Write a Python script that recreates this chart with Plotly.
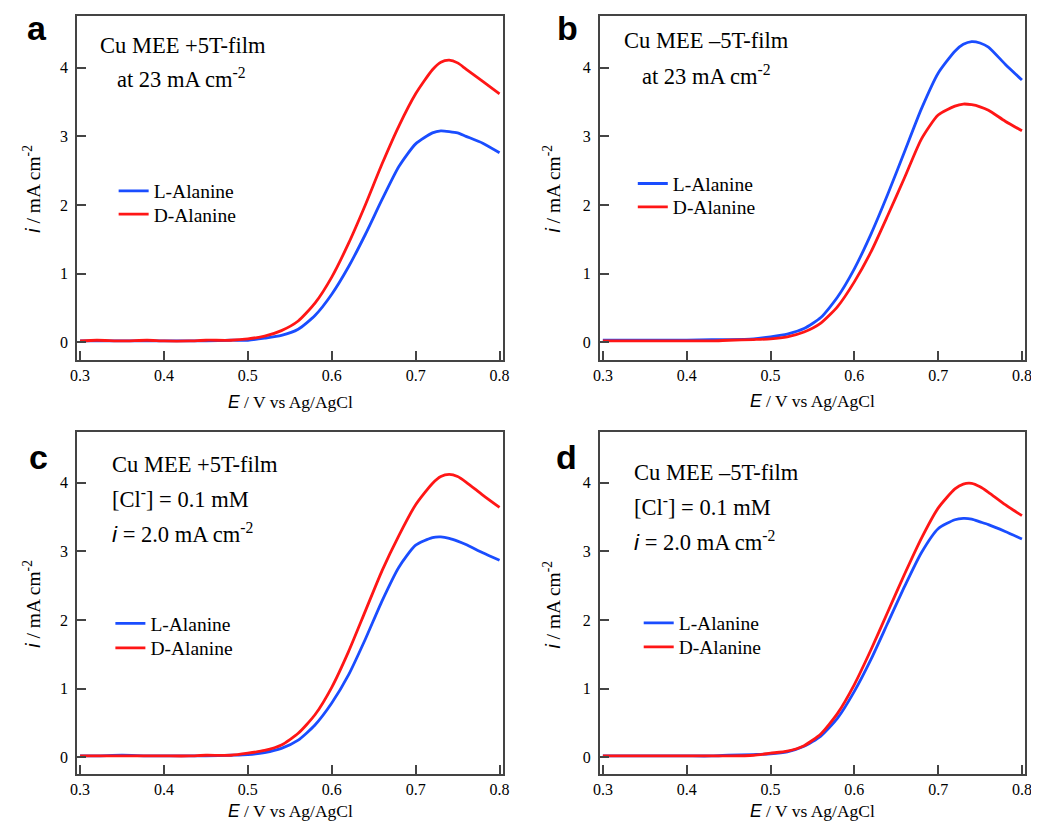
import plotly.graph_objects as go

# ---------------- data ----------------
E_V = [0.30, 0.32, 0.35, 0.38, 0.40, 0.43, 0.45, 0.48, 0.50, 0.52, 0.54, 0.56, 0.58,
       0.60, 0.62, 0.64, 0.66, 0.68, 0.70, 0.72, 0.73, 0.74, 0.75, 0.76, 0.78, 0.80]

a_L = [0.02, 0.02, 0.02, 0.02, 0.02, 0.02, 0.02, 0.03, 0.03, 0.06, 0.10, 0.19, 0.39,
       0.70, 1.10, 1.57, 2.08, 2.56, 2.89, 3.05, 3.08, 3.07, 3.05, 3.00, 2.90, 2.76]
a_D = [0.02, 0.03, 0.02, 0.03, 0.02, 0.02, 0.03, 0.03, 0.05, 0.09, 0.17, 0.31, 0.57,
       0.95, 1.44, 2.00, 2.60, 3.15, 3.62, 3.97, 4.08, 4.11, 4.07, 3.98, 3.80, 3.62]

b_L = [0.03, 0.03, 0.03, 0.03, 0.03, 0.04, 0.04, 0.05, 0.08, 0.12, 0.20, 0.36, 0.66,
       1.07, 1.58, 2.16, 2.78, 3.40, 3.92, 4.24, 4.34, 4.38, 4.36, 4.30, 4.05, 3.82]
b_D = [0.02, 0.02, 0.02, 0.02, 0.02, 0.02, 0.03, 0.04, 0.05, 0.08, 0.15, 0.28, 0.52,
       0.88, 1.32, 1.85, 2.40, 2.96, 3.31, 3.44, 3.47, 3.46, 3.43, 3.38, 3.22, 3.08]

c_L = [0.02, 0.02, 0.03, 0.02, 0.02, 0.02, 0.02, 0.03, 0.04, 0.07, 0.13, 0.25, 0.47,
       0.79, 1.20, 1.72, 2.28, 2.77, 3.09, 3.20, 3.21, 3.19, 3.15, 3.10, 2.98, 2.87]
c_D = [0.02, 0.02, 0.02, 0.02, 0.02, 0.02, 0.03, 0.03, 0.06, 0.10, 0.18, 0.35, 0.62,
       1.02, 1.54, 2.13, 2.72, 3.23, 3.68, 3.99, 4.09, 4.12, 4.09, 4.01, 3.82, 3.64]

d_L = [0.02, 0.02, 0.02, 0.02, 0.02, 0.02, 0.03, 0.04, 0.05, 0.08, 0.16, 0.31, 0.57,
       0.96, 1.43, 1.96, 2.49, 2.98, 3.33, 3.46, 3.48, 3.47, 3.43, 3.39, 3.29, 3.18]
d_D = [0.02, 0.02, 0.02, 0.02, 0.02, 0.02, 0.02, 0.03, 0.06, 0.09, 0.17, 0.34, 0.64,
       1.06, 1.57, 2.12, 2.67, 3.19, 3.63, 3.91, 3.98, 3.99, 3.94, 3.86, 3.68, 3.52]

x_ticks = [0.3, 0.4, 0.5, 0.6, 0.7, 0.8]
x_tick_labels = ["0.3", "0.4", "0.5", "0.6", "0.7", "0.8"]
y_ticks = [0, 1, 2, 3, 4]
y_tick_labels = ["0", "1", "2", "3", "4"]

series_names = ["L-Alanine", "D-Alanine"]
panel_letters = ["a", "b", "c", "d"]

TS = 22.5      # panel text size
XTS = 17.5     # x title size
YTS = 19.5     # y title size


def sans_it(ch, size):
    return f"<i><span style='font-family:Liberation Sans;font-size:{size}px'>{ch}</span></i>"


def sup(txt, size):
    return f"<sup><span style='font-size:{size * 0.7:.1f}px'>{txt}</span></sup>"


panel_texts = [
    ["Cu MEE +5T-film", "at 23 mA cm" + sup("-2", TS)],
    ["Cu MEE \u20135T-film", "at 23 mA cm" + sup("-2", TS)],
    ["Cu MEE +5T-film", "[Cl" + sup("-", TS) + "] = 0.1 mM",
     sans_it("i", TS) + " = 2.0 mA cm" + sup("-2", TS)],
    ["Cu MEE \u20135T-film", "[Cl" + sup("-", TS) + "] = 0.1 mM",
     sans_it("i", TS) + " = 2.0 mA cm" + sup("-2", TS)],
]
x_title = sans_it("E", XTS) + " / V vs Ag/AgCl"
y_title = sans_it("i", YTS) + " / mA cm" + sup("-2", YTS)

panel_data = [(a_L, a_D), (b_L, b_D), (c_L, c_D), (d_L, d_D)]

# ---------------- style / layout ----------------
# the page body has an 8 px margin: figure is drawn 8 px in from the window corner
OFF = 8
WIN_W, WIN_H = 1039, 825
W, H = WIN_W - OFF, WIN_H - OFF
BLUE = "#1a4dff"
RED = "#ff1616"
AX = "#444444"
SERIF = "Liberation Serif"
SANS = "Liberation Sans"


def fx(p):
    """window pixel x -> paper fraction"""
    return (p - OFF) / W


def fy(p):
    """window pixel y -> paper fraction"""
    return 1 - (p - OFF) / H


# pixel boxes in window coords (left, right, top, bottom)
boxes = [(71, 502.7, 15.7, 360.0), (601, 1032.3, 15.7, 360.0),
         (71, 502.7, 431.7, 774.0), (601, 1032.3, 431.7, 774.0)]
y_ranges = [[-0.258, 4.757], [-0.258, 4.757], [-0.243, 4.743], [-0.243, 4.743]]
x_range = [0.2965, 0.8041]

# legend rows: (text start x, row centre y) for L and D in each panel
legend_rows = [
    [(156, 190.7), (156, 214.0)],
    [(682.3, 183.3), (682.3, 206.7)],
    [(152.7, 623.3), (152.7, 647.7)],
    [(688.3, 622.7), (688.3, 646.7)],
]

fig = go.Figure()

n = 0
for k, (L, D) in enumerate(panel_data):
    xa = "x" if k == 0 else f"x{k+1}"
    ya = "y" if k == 0 else f"y{k+1}"
    for j, (name, vals, col) in enumerate(((series_names[0], L, BLUE),
                                           (series_names[1], D, RED))):
        n += 1
        lg = "legend" if n == 1 else f"legend{n}"
        fig.add_trace(go.Scatter(
            x=E_V, y=vals, mode="lines", name=name,
            line=dict(color=col, width=2.8, shape="spline", smoothing=0.6),
            xaxis=xa, yaxis=ya, legend=lg, showlegend=True,
        ))

layout = dict(
    width=W, height=H, margin=dict(l=0, r=0, t=0, b=0),
    paper_bgcolor="white", plot_bgcolor="white",
    font=dict(family=SERIF, color="black", size=16),
)

for k, (l, r, t, b) in enumerate(boxes):
    sx = "" if k == 0 else str(k + 1)
    common = dict(ticks="inside", ticklen=9, tickwidth=1.5, tickcolor=AX,
                  showline=True, linecolor=AX, linewidth=1.8, mirror=True,
                  showgrid=False, zeroline=False,
                  tickfont=dict(family=SERIF, size=16, color="black"))
    layout[f"xaxis{sx}"] = dict(domain=[fx(l), fx(r)], range=x_range, anchor=f"y{sx}",
                                tickvals=x_ticks, ticktext=x_tick_labels, **common)
    layout[f"yaxis{sx}"] = dict(domain=[fy(b), fy(t)], range=y_ranges[k], anchor=f"x{sx}",
                                tickvals=y_ticks, ticktext=y_tick_labels,
                                ticklabelstandoff=4, **common)

n = 0
for k in range(4):
    for j in range(2):
        n += 1
        lg = "legend" if n == 1 else f"legend{n}"
        tx, ry = legend_rows[k][j]
        layout[lg] = dict(
            x=fx(tx - 48), y=fy(ry - 19), xanchor="left", yanchor="top",
            bgcolor="rgba(0,0,0,0)", borderwidth=0,
            font=dict(family=SERIF, size=19.5, color="black"),
            itemwidth=30,
        )

fig.update_layout(**layout)

# ---------------- annotations ----------------
ann = []

LS = 34
letter_pos = [(30, 40.5), (568, 40.5), (32, 470), (567, 470)]
for k, (cx, base) in enumerate(letter_pos):
    ann.append(dict(text=f"<b>{panel_letters[k]}</b>", x=fx(cx), y=fy(base + 0.212 * LS + 1),
                    xref="paper", yref="paper", xanchor="center", yanchor="bottom",
                    showarrow=False, font=dict(family=SANS, size=LS, color="black")))

text_layout = [
    ("center", [(178, 54), (177, 88)]),
    ("center", [(709.5, 49.3), (709, 85)]),
    ("left", [(104, 473.3), (104, 508.3), (104, 542.7)]),
    ("left", [(633, 480.7), (633, 516), (633, 550.7)]),
]
for k, (anc, lines) in enumerate(text_layout):
    for txt, (px_, base) in zip(panel_texts[k], lines):
        ann.append(dict(text=txt, x=fx(px_), y=fy(base + 0.216 * TS + 1),
                        xref="paper", yref="paper", xanchor=anc, yanchor="bottom",
                        showarrow=False, font=dict(family=SERIF, size=TS, color="black")))

xt_base = [409, 408.3, 818, 818]
yt_center = [(25, 189), (552, 189), (25, 604), (552, 605)]
for k, (l, r, t, b) in enumerate(boxes):
    ann.append(dict(text=x_title, x=fx((l + r) / 2), y=fy(xt_base[k] + 0.216 * XTS + 1),
                    xref="paper", yref="paper", xanchor="center", yanchor="bottom",
                    showarrow=False, font=dict(family=SERIF, size=XTS, color="black")))
    cx, cy = yt_center[k]
    ann.append(dict(text=y_title, x=fx(cx), y=fy(cy), textangle=-90,
                    xref="paper", yref="paper", xanchor="center", yanchor="middle",
                    showarrow=False, font=dict(family=SERIF, size=YTS, color="black")))

fig.update_layout(annotations=ann)

fig.write_html("out.html")
